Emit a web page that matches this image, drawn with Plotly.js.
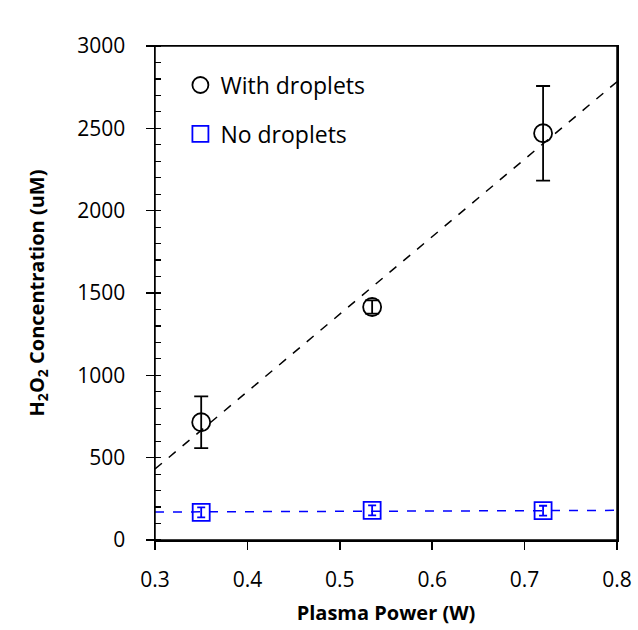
<!DOCTYPE html>
<html><head><meta charset="utf-8">
<script src="https://cdn.plot.ly/plotly-3.0.1.min.js"></script>
<style>body{margin:0;background:#fff}#chart{width:638px;height:630px}</style>
</head><body><div id="chart"></div>
<script>
var power = [0.35, 0.535, 0.72];
var withDroplets = [715, 1415, 2470];
var withErr = [157, 40, 287];
var noDroplets = [168, 180, 178];
var noErr = [30, 30, 30];
var trendWithX = [0.3, 0.8];
var trendWithY = [431, 2783];
var trendNoX = [0.3, 0.8];
var trendNoY = [170, 180];

var font = "'Open Sans', 'Noto Sans', sans-serif";
var traces = [
  {x: trendWithX, y: trendWithY, mode: 'lines', line: {color: '#000', dash: 'dash', width: 1.5}, showlegend: false, hoverinfo: 'skip'},
  {x: trendNoX, y: trendNoY, mode: 'lines', line: {color: '#0000ff', dash: 'dash', width: 1.5}, showlegend: false, hoverinfo: 'skip'},
  {x: power, y: withDroplets, name: 'With droplets', mode: 'markers',
   marker: {symbol: 'circle-open', size: 18, color: '#000', line: {width: 1.8, color: '#000'}},
   error_y: {type: 'data', array: withErr, visible: true, color: '#000', thickness: 1.8, width: 7},
   legend: 'legend'},
  {x: power, y: noDroplets, name: 'No droplets', mode: 'markers',
   marker: {symbol: 'square-open', size: 17, color: '#0000ff', line: {width: 1.8, color: '#0000ff'}},
   error_y: {type: 'data', array: noErr, visible: true, color: '#0000ff', thickness: 1.8, width: 4},
   legend: 'legend2'}
];
var layout = {
  width: 638, height: 630,
  margin: {l: 155, r: 21, t: 46, b: 90},
  paper_bgcolor: '#fff', plot_bgcolor: '#fff',
  font: {family: font, size: 21, color: '#000'},
  showlegend: true,
  legend: {x: 0.055, y: 0.921, xanchor: 'left', yanchor: 'middle', bgcolor: 'rgba(0,0,0,0)', font: {size: 23}, itemwidth: 30},
  legend2: {x: 0.055, y: 0.822, xanchor: 'left', yanchor: 'middle', bgcolor: 'rgba(0,0,0,0)', font: {size: 23}, itemwidth: 30},
  shapes: [{type: 'rect', xref: 'paper', yref: 'paper', x0: 0, x1: 1, y0: 0, y1: 1, line: {color: '#000', width: 1.5}, layer: 'above'}],
  xaxis: {
    range: [0.3, 0.8], dtick: 0.1, tick0: 0.3, tickformat: '.1f',
    showline: true, linecolor: '#000', linewidth: 1.5, mirror: true,
    ticks: 'outside', ticklen: 8, tickwidth: 1.5, tickcolor: '#000',
    ticklabelstandoff: 12,
    showgrid: false, zeroline: false,
    title: {text: '<b>Plasma Power (W)</b>', font: {size: 20}, standoff: 14}
  },
  yaxis: {
    range: [0, 3000], dtick: 500,
    showline: true, linecolor: '#000', linewidth: 1.5, mirror: true,
    ticks: 'outside', ticklen: 8, tickwidth: 1.5, tickcolor: '#000',
    ticklabelstandoff: 16,
    minor: {ticks: 'inside', dtick: 100, ticklen: 6, tickwidth: 1.2, tickcolor: '#000', showgrid: false},
    showgrid: false, zeroline: false,
    title: {text: '<b>H<sub>2</sub>O<sub>2</sub> Concentration (uM)</b>', font: {size: 20}, standoff: 27}
  }
};
Plotly.newPlot('chart', traces, layout, {displayModeBar: false, staticPlot: true});
</script></body></html>
